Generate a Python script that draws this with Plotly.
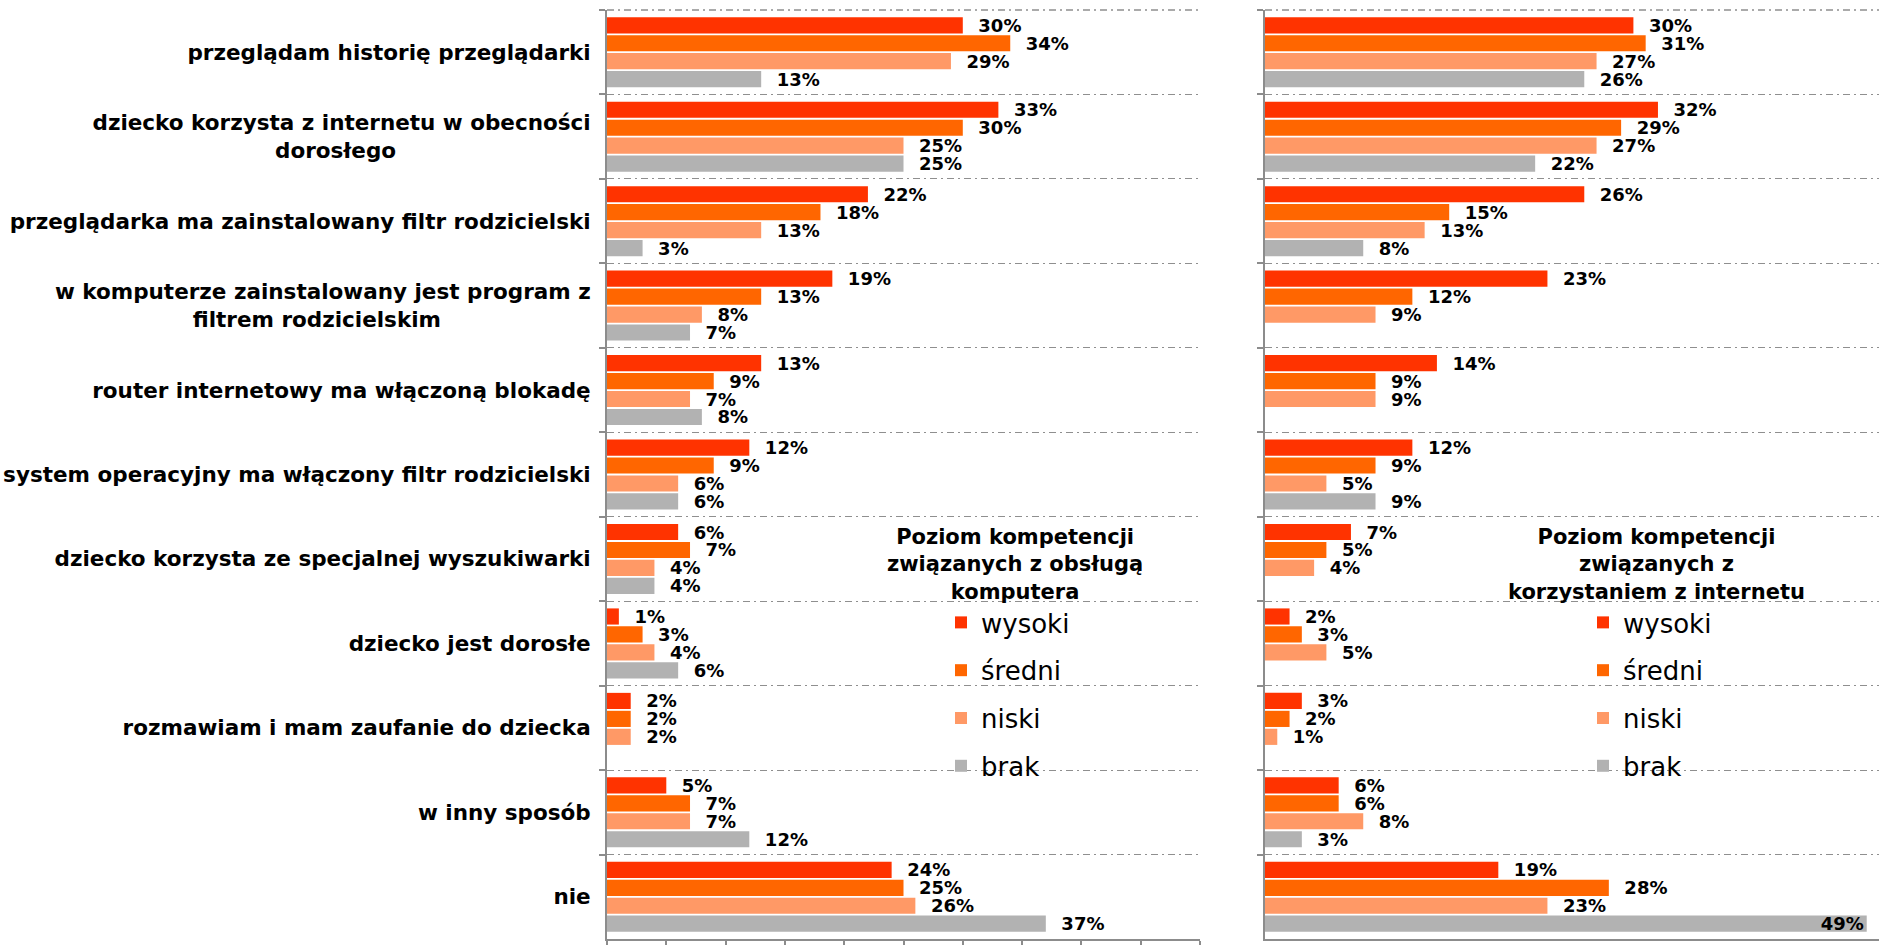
import plotly.graph_objects as go

NB = "\u00a0"
categories = [
    "przeglądam historię przeglądarki",
    "dziecko korzysta z internetu w obecności<br>dorosłego" + NB * 26,
    "przeglądarka ma zainstalowany filtr rodzicielski",
    "w komputerze zainstalowany jest program z<br>filtrem rodzicielskim" + NB * 20,
    "router internetowy ma włączoną blokadę",
    "system operacyjny ma włączony filtr rodzicielski",
    "dziecko korzysta ze specjalnej wyszukiwarki",
    "dziecko jest dorosłe",
    "rozmawiam i mam zaufanie do dziecka",
    "w inny sposób",
    "nie",
]

series_names = ["wysoki", "średni", "niski", "brak"]
colors = ["#FF3300", "#FF6600", "#FF9966", "#B2B2B2"]

# Left panel: competence in computer use
left_wysoki = [30, 33, 22, 19, 13, 12, 6, 1, 2, 5, 24]
left_sredni = [34, 30, 18, 13, 9, 9, 7, 3, 2, 7, 25]
left_niski = [29, 25, 13, 8, 7, 6, 4, 4, 2, 7, 26]
left_brak = [13, 25, 3, 7, 8, 6, 4, 6, None, 12, 37]

# Right panel: competence in internet use
right_wysoki = [30, 32, 26, 23, 14, 12, 7, 2, 3, 6, 19]
right_sredni = [31, 29, 15, 12, 9, 9, 5, 3, 2, 6, 28]
right_niski = [27, 27, 13, 9, 9, 5, 4, 5, 1, 8, 23]
right_brak = [26, 22, 8, None, None, 9, None, None, None, 3, 49]

left_title = "Poziom kompetencji<br>związanych z obsługą<br>komputera"
right_title = "Poziom kompetencji<br>związanych z<br>korzystaniem z internetu"

left_series = [left_wysoki, left_sredni, left_niski, left_brak]
right_series = [right_wysoki, right_sredni, right_niski, right_brak]

FONT = "DejaVu Sans"
X_MAX = 50
VAL_SIZE = 18

fig = go.Figure()

for i, (name, vals) in enumerate(zip(series_names, left_series)):
    fig.add_trace(go.Bar(
        y=categories, x=vals, orientation="h", name=name,
        marker=dict(color=colors[i], line=dict(width=0)),
        texttemplate=NB * 2 + "%{x}%", textposition="outside",
        textfont=dict(family=FONT, size=VAL_SIZE, color="black", weight="bold"),
        constraintext="none", cliponaxis=False,
        xaxis="x", yaxis="y", legend="legend", legendgroup="L%d" % i,
        hoverinfo="skip",
    ))

for i, (name, vals) in enumerate(zip(series_names, right_series)):
    positions = ["inside" if (v is not None and v > 0.9 * X_MAX) else "outside" for v in vals]
    fig.add_trace(go.Bar(
        y=categories, x=vals, orientation="h", name=name,
        marker=dict(color=colors[i], line=dict(width=0)),
        texttemplate=NB * 2 + "%{x}%", textposition=positions,
        insidetextanchor="end",
        textfont=dict(family=FONT, size=VAL_SIZE, color="black", weight="bold"),
        constraintext="none", cliponaxis=False,
        xaxis="x2", yaxis="y2", legend="legend2", legendgroup="R%d" % i,
        hoverinfo="skip",
    ))

axis_grey = "#8C8C8C"
grid_grey = "#8F8F8F"
GRID_DASH = "7px,4px,2px,4px"

yaxis_common = dict(
    type="category", autorange="reversed", tickson="boundaries",
    showgrid=True, gridcolor=grid_grey, gridwidth=1.3, griddash=GRID_DASH,
    showline=True, linecolor=axis_grey, linewidth=2,
    ticks="outside", ticklen=6, tickcolor=axis_grey, tickwidth=1.5,
    automargin=False,
)

legend_common = dict(
    y=0.366, xanchor="left", yanchor="top",
    font=dict(family=FONT, size=26, color="black"),
    traceorder="grouped", tracegroupgap=11, itemwidth=30,
    bgcolor="rgba(0,0,0,0)", itemclick=False, itemdoubleclick=False,
)

fig.update_layout(
    width=1901, height=945,
    margin=dict(l=0, r=0, t=10, b=4),
    paper_bgcolor="white", plot_bgcolor="white",
    barmode="group", bargap=0.15, bargroupgap=0.1,
    font=dict(family=FONT, color="black"),
    xaxis=dict(domain=[607 / 1901, 1200 / 1901], range=[0, X_MAX], showticklabels=False,
               showgrid=False, zeroline=False, showline=True, linecolor=axis_grey, linewidth=2,
               ticks="outside", dtick=5, tick0=0, ticklen=6, tickcolor=axis_grey, tickwidth=1.5,
               anchor="y"),
    xaxis2=dict(domain=[1265 / 1901, 1879 / 1901], range=[0, X_MAX], showticklabels=False,
                showgrid=False, zeroline=False, showline=True, linecolor=axis_grey, linewidth=2,
                ticks="", anchor="y2"),
    yaxis=dict(anchor="x", showticklabels=True,
               tickfont=dict(family=FONT, size=21.5, color="black", weight="bold"),
               ticklabelstandoff=10, **yaxis_common),
    yaxis2=dict(anchor="x2", matches="y", showticklabels=False, **yaxis_common),
    legend=dict(x=941 / 1901, **legend_common),
    legend2=dict(x=1583 / 1901, **legend_common),
    annotations=[
        dict(text=left_title, xref="paper", yref="paper", x=1015 / 1901, y=0.448,
             xanchor="center", yanchor="top", showarrow=False, align="center",
             font=dict(family=FONT, size=21, color="black", weight="bold")),
        dict(text=right_title, xref="paper", yref="paper", x=1656 / 1901, y=0.448,
             xanchor="center", yanchor="top", showarrow=False, align="center",
             font=dict(family=FONT, size=21, color="black", weight="bold")),
    ],
    shapes=[
        dict(type="line", xref="x domain", yref="y domain", x0=0, x1=1, y0=1, y1=1,
             line=dict(color=grid_grey, width=1.3, dash=GRID_DASH), layer="below"),
        dict(type="line", xref="x2 domain", yref="y2 domain", x0=0, x1=1, y0=1, y1=1,
             line=dict(color=grid_grey, width=1.3, dash=GRID_DASH), layer="below"),
    ],
    showlegend=True,
)

fig.write_html("out.html", config={"displayModeBar": False},
               post_script="document.body.style.margin='0';document.body.style.overflow='hidden';")
